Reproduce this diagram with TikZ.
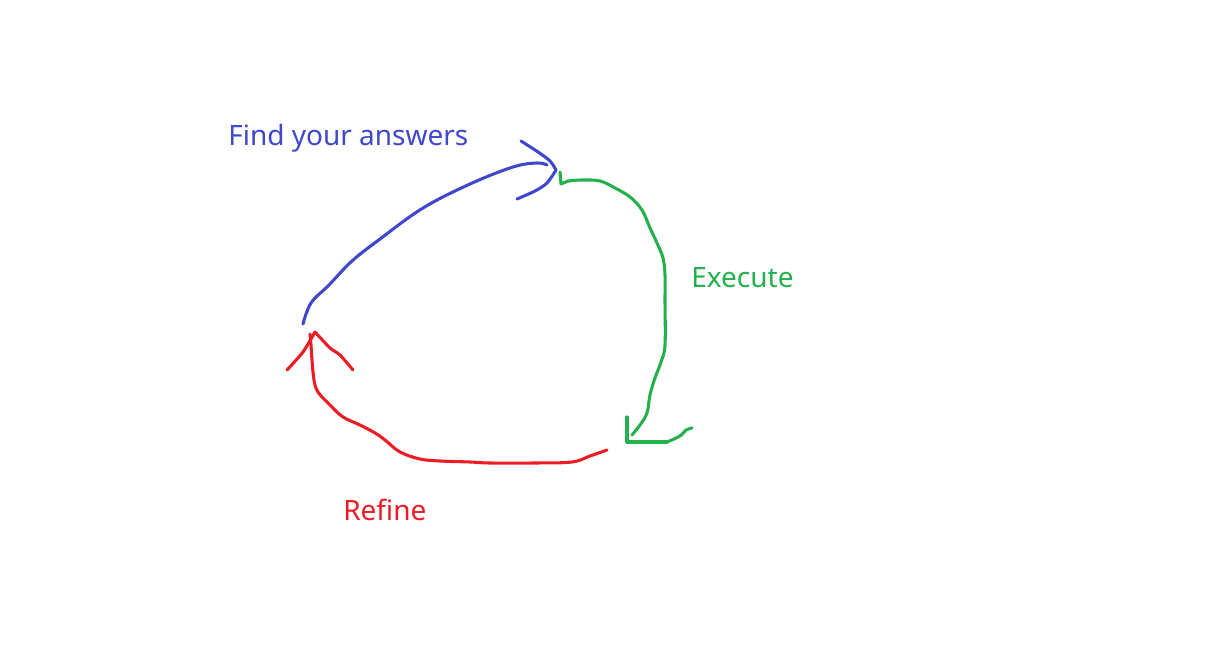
\documentclass[tikz,border=0pt]{standalone}
\usepackage{fontspec}
\setmainfont{Noto Sans}
\definecolor{paintblue}{RGB}{63,72,204}
\definecolor{paintgreen}{RGB}{34,177,76}
\definecolor{paintred}{RGB}{237,28,36}

\begin{document}
\begin{tikzpicture}[x=0.75pt,y=-0.75pt,
  pen/.style={line width=2.3pt,line cap=round,line join=round},
  lbl/.style={inner sep=0pt,anchor=base west,font=\fontsize{21}{24}\selectfont}]
\useasboundingbox (0,0) rectangle (1210,648);

% labels
\node[lbl,text=paintblue] (find) at (228,146) {Find your answers};
\node[lbl,text=paintgreen] (exec) at (691,288) {Execute};
\node[lbl,text=paintred] (refine) at (343,520) {Refine};

% ends of the strokes
\coordinate (bstart) at (303,324);
\coordinate (btip) at (556,170);
\coordinate (gtop) at (560,172);
\coordinate (gcorner) at (627,442);
\coordinate (rstart) at (607,450);
\coordinate (rtip) at (315,332);

% blue: find your answers
\draw[pen,paintblue] plot[smooth,tension=0.6] coordinates {(bstart) (311,303) (329,285) (352,261) (380,239) (423,208) (470,184) (513,167) (537,163) (547,165)};
\draw[pen,paintblue] plot[smooth,tension=0.5] coordinates {(521,141) (538,152) (550,161) (btip)};
\draw[pen,paintblue] plot[smooth,tension=0.5] coordinates {(btip) (547,183) (535,191) (517,199)};

% green: execute
\draw[pen,paintgreen] (gtop) -- (561,184) -- (568,181);
\draw[pen,paintgreen] plot[smooth,tension=0.6] coordinates {(568,181) (582,180) (600,181) (615,188) (630,197) (642,210) (650,228) (657,243) (663,258) (665,275) (665,300) (665,345) (661,362) (655,378) (650,395) (647,413) (640,425) (632,435)};
\draw[pen,paintgreen] (627,417) -- (gcorner) -- (667,442);
\draw[pen,paintgreen] plot[smooth,tension=0.6] coordinates {(667,442) (680,436) (686,430) (692,428)};

% red: refine
\draw[pen,paintred] plot[smooth,tension=0.6] coordinates {(rstart) (590,456) (572,462) (535,463) (490,463) (470,462) (440,461) (420,459) (400,452) (385,440) (375,433) (360,425) (343,417) (330,405) (318,392) (314,380) (312,360) (311,345) (310,334)};
\draw[pen,paintred] plot[smooth,tension=0.4] coordinates {(287,370) (303,352) (rtip)};
\draw[pen,paintred] plot[smooth,tension=0.4] coordinates {(rtip) (330,348) (340,355) (353,370)};
\end{tikzpicture}
\end{document}
